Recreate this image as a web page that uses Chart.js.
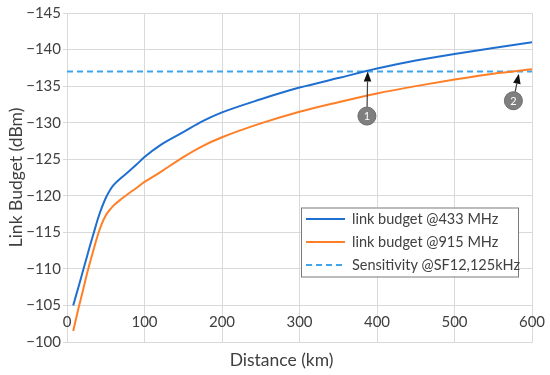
<!DOCTYPE html>
<html>
<head>
<meta charset="utf-8">
<script src="https://cdn.jsdelivr.net/npm/chart.js@4.4.1/dist/chart.umd.min.js"></script>
<style>
  html, body { margin: 0; padding: 0; background: #fff; }
  #chart { display: block; }
</style>
</head>
<body>
<canvas id="chart" width="550" height="375"></canvas>
<script>
const distances = [8, 15, 20, 25, 30, 35, 40, 45, 50, 55, 60, 70, 80, 90, 100, 120, 150, 175, 200, 250, 300, 350, 400, 450, 500, 550, 600];

// link budget (dBm)
const budget433 = [-105.0, -107.6, -109.5, -111.4, -113.3, -115.1, -116.9, -118.4, -119.7, -120.7, -121.45, -122.45, -123.35, -124.3, -125.3, -126.9, -128.7, -130.2, -131.4, -133.2, -134.8, -136.1, -137.4, -138.5, -139.4, -140.2, -141.0];
const budget915 = [-101.5, -104.7, -106.8, -109.0, -111.0, -112.9, -114.7, -116.2, -117.3, -118.05, -118.65, -119.55, -120.35, -121.1, -121.9, -123.2, -125.3, -126.8, -128.0, -129.9, -131.5, -132.8, -134.0, -135.0, -135.9, -136.7, -137.3];

// receiver sensitivity line
const sensX = [0, 600];
const sensY = [-137, -137];

const seriesLabels = ['link budget @433 MHz', 'link budget @915 MHz', 'Sensitivity @SF12,125kHz'];
const yTicks = [-145, -140, -135, -130, -125, -120, -115, -110, -105, -100];
const xTicks = [0, 100, 200, 300, 400, 500, 600];

// numbered callouts: circle centre and arrow tip, in data units
const callouts = [
  { text: '1', cx: 387, cy: -130.9, tx: 388, ty: -137.0 },
  { text: '2', cx: 576, cy: -133.0, tx: 583, ty: -136.7 }
];

const FONT = 'Lato, "Open Sans", sans-serif';
const TEXT = '#404040';
const GRID = '#d9d9d9';

function pts(xs, ys){
  return xs.map((x, i) => ({ x: x, y: ys[i] }));
}

// x tick labels sit inside the plot, just above the -100 line
const innerXLabels = {
  id: 'innerXLabels',
  beforeDatasetsDraw(chart){
    const ctx = chart.ctx;
    const xs = chart.scales.x;
    ctx.save();
    ctx.font = '15px ' + FONT;
    ctx.fillStyle = TEXT;
    ctx.textAlign = 'center';
    ctx.textBaseline = 'middle';
    xs.ticks.forEach(t => {
      ctx.fillText(xs.getLabelForValue(t.value), xs.getPixelForValue(t.value), chart.chartArea.bottom - 20);
    });
    ctx.restore();
  }
};

// legend box drawn inside the plot area
const boxLegend = {
  id: 'boxLegend',
  afterDraw(chart){
    const ctx = chart.ctx;
    const x0 = 301, y0 = 207.5, w = 217, h = 69;
    ctx.save();
    ctx.fillStyle = '#fff';
    ctx.fillRect(x0, y0, w, h);
    ctx.strokeStyle = '#7a7a7a';
    ctx.lineWidth = 1;
    ctx.strokeRect(x0 + 0.5, y0 + 0.5, w, h);
    ctx.font = '14.5px ' + FONT;
    ctx.textBaseline = 'middle';
    chart.data.datasets.forEach((ds, i) => {
      const y = y0 + 11.5 + i * 23;
      ctx.beginPath();
      ctx.strokeStyle = ds.borderColor;
      ctx.lineWidth = ds.borderWidth;
      ctx.setLineDash(ds.borderDash || []);
      ctx.moveTo(x0 + 5, y);
      ctx.lineTo(x0 + 44, y);
      ctx.stroke();
      ctx.setLineDash([]);
      ctx.fillStyle = TEXT;
      ctx.fillText(ds.label, x0 + 51, y);
    });
    ctx.restore();
  }
};

// grey numbered circles with arrows
const calloutPlugin = {
  id: 'callouts',
  afterDatasetsDraw(chart){
    const ctx = chart.ctx;
    const xs = chart.scales.x, ys = chart.scales.y;
    ctx.save();
    callouts.forEach(c => {
      const cx = xs.getPixelForValue(c.cx), cy = ys.getPixelForValue(c.cy);
      const tx = xs.getPixelForValue(c.tx), ty = ys.getPixelForValue(c.ty);
      const r = 9;
      const ang = Math.atan2(ty - cy, tx - cx);
      const head = 10, half = 3.8;
      const bx = tx - head * Math.cos(ang), by = ty - head * Math.sin(ang);
      ctx.strokeStyle = '#404040';
      ctx.fillStyle = '#111';
      ctx.lineWidth = 1.2;
      ctx.beginPath();
      ctx.moveTo(cx + r * Math.cos(ang), cy + r * Math.sin(ang));
      ctx.lineTo(bx, by);
      ctx.stroke();
      ctx.beginPath();
      ctx.moveTo(tx, ty);
      ctx.lineTo(bx + half * Math.sin(ang), by - half * Math.cos(ang));
      ctx.lineTo(bx - half * Math.sin(ang), by + half * Math.cos(ang));
      ctx.closePath();
      ctx.fill();
      ctx.beginPath();
      ctx.arc(cx, cy, r, 0, Math.PI * 2);
      ctx.fillStyle = '#7f7f7f';
      ctx.fill();
      ctx.strokeStyle = '#6a6a6a';
      ctx.lineWidth = 1;
      ctx.stroke();
      ctx.fillStyle = '#fff';
      ctx.font = '11px ' + FONT;
      ctx.textAlign = 'center';
      ctx.textBaseline = 'middle';
      ctx.fillText(c.text, cx, cy + 0.5);
    });
    ctx.restore();
  }
};

new Chart(document.getElementById('chart'), {
  type: 'line',
  data: {
    datasets: [
      {
        label: seriesLabels[0],
        data: pts(distances, budget433),
        borderColor: '#1f6fd1',
        borderWidth: 2,
        pointRadius: 0,
        cubicInterpolationMode: 'monotone'
      },
      {
        label: seriesLabels[1],
        data: pts(distances, budget915),
        borderColor: '#ff7f27',
        borderWidth: 2,
        pointRadius: 0,
        cubicInterpolationMode: 'monotone'
      },
      {
        label: seriesLabels[2],
        data: pts(sensX, sensY),
        borderColor: '#3fa6ec',
        borderWidth: 2,
        borderDash: [6, 4],
        pointRadius: 0
      }
    ]
  },
  options: {
    responsive: false,
    animation: false,
    layout: { padding: { left: 6, right: 18, top: 13, bottom: 0 } },
    plugins: {
      legend: { display: false },
      tooltip: { enabled: false }
    },
    scales: {
      x: {
        type: 'linear',
        min: 0, max: 600,
        afterBuildTicks: s => { s.ticks = xTicks.map(v => ({ value: v })); },
        afterFit: s => { s.height = 33; },
        grid: { color: GRID, drawTicks: false },
        border: { color: GRID },
        ticks: { display: false },
        title: {
          display: true,
          text: 'Distance (km)\u00a0\u00a0\u00a0\u00a0\u00a0\u00a0\u00a0\u00a0',
          color: TEXT,
          font: { family: FONT, size: 17.5 },
          padding: { top: 0, bottom: 4 }
        }
      },
      y: {
        type: 'linear',
        min: -145, max: -100,
        reverse: true,
        afterBuildTicks: s => { s.ticks = yTicks.map(v => ({ value: v })); },
        afterFit: s => { s.width = 61; },
        grid: { color: GRID, tickLength: 4 },
        border: { color: GRID },
        ticks: {
          color: TEXT,
          padding: 2,
          font: { family: FONT, size: 15 },
          callback: v => '\u2212' + Math.abs(v)
        },
        title: {
          display: true,
          text: 'Link Budget (dBm)',
          color: TEXT,
          font: { family: FONT, size: 17.5 },
          padding: { top: 0, bottom: 0 }
        }
      }
    }
  },
  plugins: [innerXLabels, boxLegend, calloutPlugin]
});
</script>
</body>
</html>
